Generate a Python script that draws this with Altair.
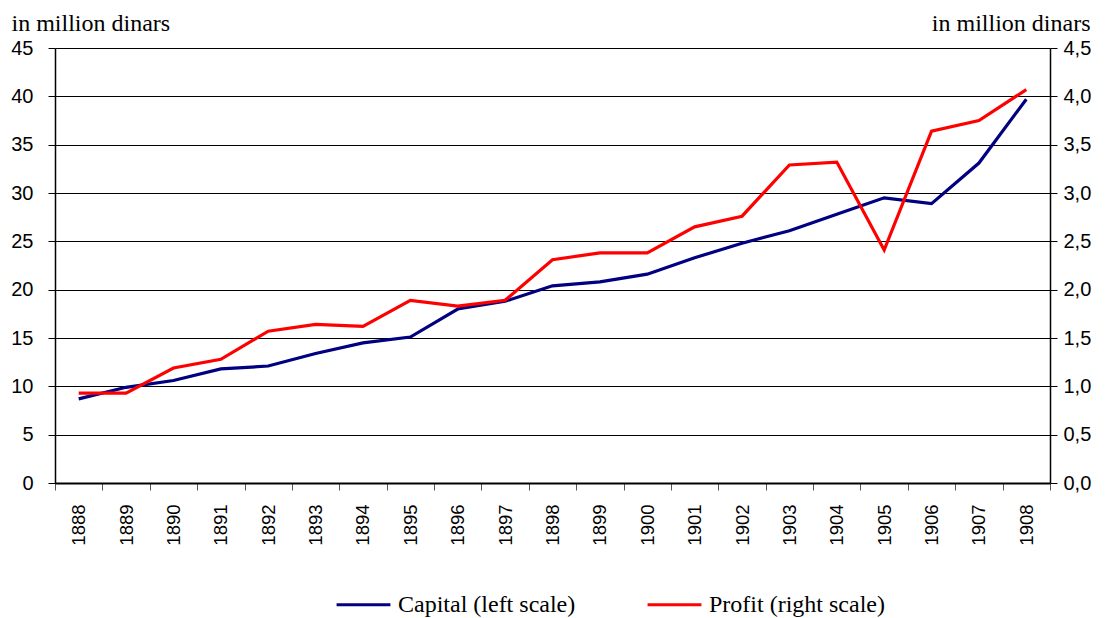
import altair as alt
import pandas as pd

years = [str(y) for y in range(1888, 1909)]
capital = [8.7, 9.9, 10.6, 11.8, 12.1, 13.4, 14.5, 15.1, 18.0, 18.8, 20.4, 20.8,
           21.6, 23.3, 24.8, 26.1, 27.8, 29.5, 28.9, 33.1, 39.7]
profit = [0.93, 0.93, 1.19, 1.28, 1.57, 1.64, 1.62, 1.89, 1.83, 1.89, 2.31, 2.38,
          2.38, 2.65, 2.76, 3.29, 3.32, 2.41, 3.64, 3.75, 4.07]
series = ["Capital (left scale)", "Profit (right scale)"]
colors = ["#000080", "#ff0000"]
left_ticks = [0, 5, 10, 15, 20, 25, 30, 35, 40, 45]
right_ticks = [0, 0.5, 1, 1.5, 2, 2.5, 3, 3.5, 4, 4.5]

df = pd.DataFrame({
    "year": years * 2,
    "value": capital + profit,
    "series": [series[0]] * len(years) + [series[1]] * len(years),
})

SANS = "Liberation Sans"
SERIF = "Liberation Serif"

x_enc = alt.X("year:O", sort=years,
              scale=alt.Scale(paddingInner=0, paddingOuter=0),
              axis=alt.Axis(title=None, labelAngle=-90, labelFont=SANS, labelFontSize=18.5,
                            labelColor="black", labelPadding=14, tickBand="extent",
                            tickColor="#555", tickSize=7, domainColor="black",
                            domainWidth=2, grid=False))

color_enc = alt.Color("series:N", scale=alt.Scale(domain=series, range=colors),
                      legend=alt.Legend(title=None, orient="none", direction="horizontal",
                                        legendX=280, legendY=528, symbolType="stroke",
                                        symbolSize=2900, symbolStrokeWidth=3,
                                        labelFont=SERIF, labelFontSize=24, labelColor="black",
                                        labelLimit=400, columnPadding=65, labelOffset=6))

left = alt.Chart(df).transform_filter(alt.datum.series == series[0]).mark_line(strokeWidth=3.2).encode(
    x=x_enc,
    y=alt.Y("value:Q", scale=alt.Scale(domain=[0, 45], nice=False),
            axis=alt.Axis(values=left_ticks, orient="left", title="in million dinars",
                          titleAngle=0, titleAlign="left", titleBaseline="alphabetic",
                          titleX=-44, titleY=-18, titleFont=SERIF, titleFontSize=24,
                          titleFontWeight="normal", titleColor="black",
                          labelFont=SANS, labelFontSize=20, labelColor="black", labelPadding=15,
                          tickColor="black", tickSize=7, domainColor="black", domainWidth=1.5,
                          grid=True, gridColor="black", gridWidth=1, gridOpacity=1)),
    color=color_enc,
)

right = alt.Chart(df).transform_filter(alt.datum.series == series[1]).mark_line(strokeWidth=3.2).encode(
    x=x_enc,
    y=alt.Y("value:Q", scale=alt.Scale(domain=[0, 4.5], nice=False),
            axis=alt.Axis(values=right_ticks, orient="right", title="in million dinars",
                          titleAngle=0, titleAlign="right", titleBaseline="alphabetic",
                          titleX=40, titleY=-18, titleFont=SERIF, titleFontSize=24,
                          titleFontWeight="normal", titleColor="black",
                          labelExpr="replace(format(datum.value, '.1f'), '.', ',')",
                          labelFont=SANS, labelFontSize=20, labelColor="black", labelPadding=6,
                          tickColor="black", tickSize=7, domainColor="black", domainWidth=1.5,
                          grid=False)),
    color=color_enc,
)

chart = alt.layer(left, right).resolve_scale(y="independent").properties(
    width=995, height=435,
    autosize=alt.AutoSizeParams(type="none"),
    padding={"left": 47, "top": 40, "right": 50, "bottom": 140},
).configure_view(stroke=None).configure(background="white")

chart.save("out.html", embed_options={"renderer": "svg", "actions": False})
